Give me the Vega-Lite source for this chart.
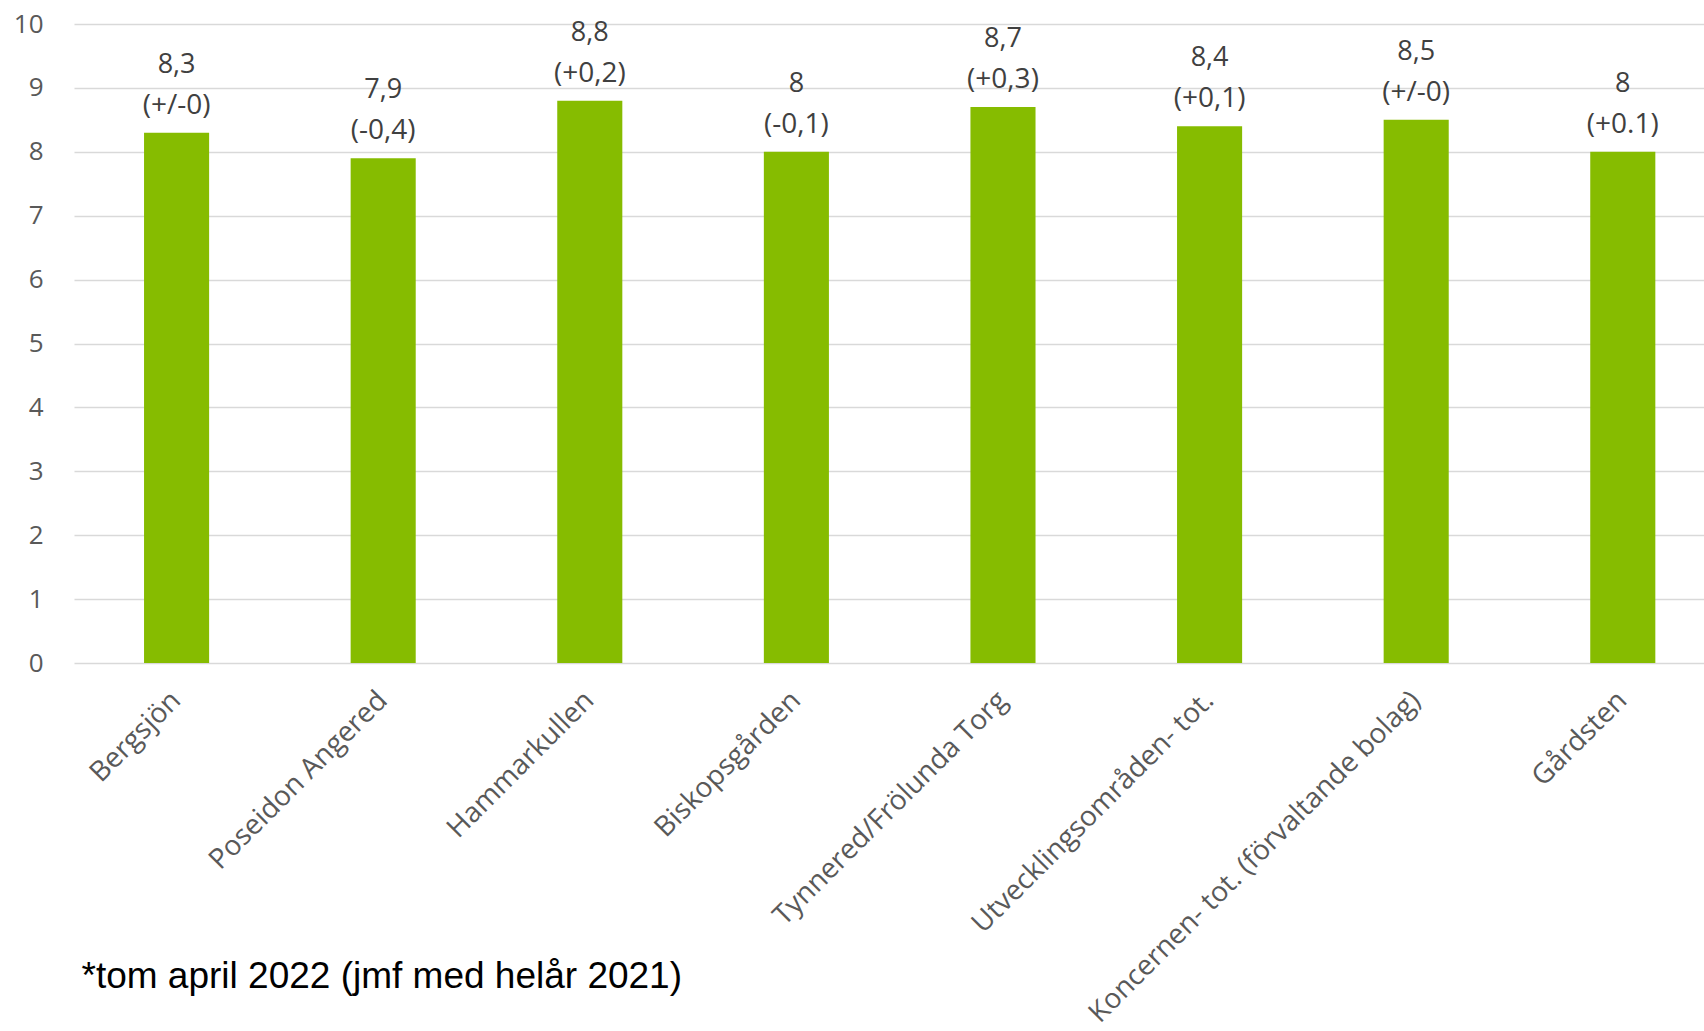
{
  "$schema": "https://vega.github.io/schema/vega-lite/v6.json",
  "autosize": {"type": "none"},
  "width": 1630,
  "height": 639,
  "padding": {"left": 74, "top": 24, "right": 0, "bottom": 368},
  "background": "white",
  "config": {"view": {"stroke": null}},
  "data": {"values": [
    {"omrade": "Bergsjön", "varde": 8.3, "txt": "8,3", "chg": "(+/-0)"},
    {"omrade": "Poseidon Angered", "varde": 7.9, "txt": "7,9", "chg": "(-0,4)"},
    {"omrade": "Hammarkullen", "varde": 8.8, "txt": "8,8", "chg": "(+0,2)"},
    {"omrade": "Biskopsgården", "varde": 8.0, "txt": "8", "chg": "(-0,1)"},
    {"omrade": "Tynnered/Frölunda Torg", "varde": 8.7, "txt": "8,7", "chg": "(+0,3)"},
    {"omrade": "Utvecklingsområden- tot.", "varde": 8.4, "txt": "8,4", "chg": "(+0,1)"},
    {"omrade": "Koncernen- tot. (förvaltande bolag)", "varde": 8.5, "txt": "8,5", "chg": "(+/-0)"},
    {"omrade": "Gårdsten", "varde": 8.0, "txt": "8", "chg": "(+0.1)"}
  ]},
  "encoding": {
    "x": {
      "field": "omrade", "type": "nominal", "sort": null,
      "scale": {"paddingInner": 0.685, "paddingOuter": 0.2873, "align": 0.59},
      "axis": {
        "title": "*tom april 2022 (jmf med helår 2021)",
        "titleFont": "Liberation Sans", "titleFontSize": 37, "titleFontWeight": "normal", "titleColor": "#000000",
        "titleAnchor": "start", "titleAlign": "left", "titleBaseline": "alphabetic",
        "titleX": 7, "titleY": 324,
        "labelAngle": -45, "labelAlign": "right", "labelBaseline": "middle",
        "labelFont": "Open Sans", "labelFontSize": 28, "labelColor": "#595959",
        "labelPadding": 33, "labelLimit": 0,
        "domain": false, "ticks": false, "grid": false
      }
    },
    "y": {
      "field": "varde", "type": "quantitative",
      "scale": {"domain": [0, 10], "nice": false},
      "axis": {
        "title": null, "values": [0,1,2,3,4,5,6,7,8,9,10],
        "labelFont": "Open Sans", "labelFontSize": 26, "labelColor": "#595959",
        "labelPadding": 31, "domain": false, "ticks": false,
        "grid": true, "gridColor": "#d9d9d9", "gridWidth": 1.5
      }
    }
  },
  "layer": [
    {"mark": {"type": "bar", "color": "#86bc00"}},
    {"mark": {"type": "text", "font": "Open Sans", "fontSize": 28, "color": "#404040", "baseline": "alphabetic", "dy": -19},
     "encoding": {"text": {"field": "chg", "type": "nominal"}}},
    {"mark": {"type": "text", "font": "Open Sans", "fontSize": 27, "color": "#404040", "baseline": "alphabetic", "dy": -60},
     "encoding": {"text": {"field": "txt", "type": "nominal"}}}
  ]
}
